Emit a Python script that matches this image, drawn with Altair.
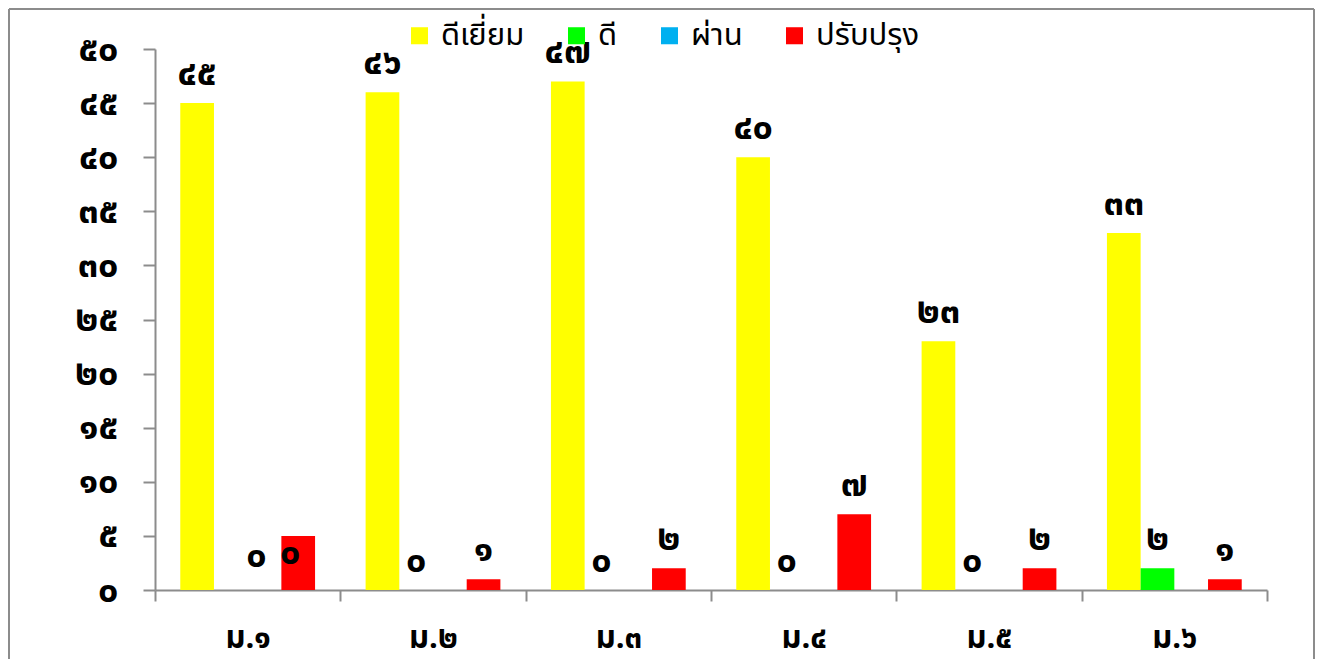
import altair as alt
import pandas as pd

# ---------------- data ----------------
categories = ["ม.๑", "ม.๒", "ม.๓", "ม.๔", "ม.๕", "ม.๖"]
series = ["ดีเยี่ยม", "ดี", "ผ่าน", "ปรับปรุง"]
colors = ["#FFFF00", "#00FF00", "#00B0F0", "#FF0000"]

excellent = [45, 46, 47, 40, 23, 33]
good = [0, 0, 0, 0, 0, 2]
passing = [None, None, None, None, None, None]
improve = [5, 1, 2, 7, 2, 1]

y_tick_values = [0, 5, 10, 15, 20, 25, 30, 35, 40, 45, 50]
y_tick_labels = ["๐", "๕", "๑๐", "๑๕", "๒๐", "๒๕", "๓๐", "๓๕", "๔๐", "๔๕", "๕๐"]

# data labels as printed on the original chart
label_excellent = ["๔๕", "๔๖", "๔๗", "๔๐", "๒๓", "๓๓"]
label_good = [None, "๐", "๐", "๐", "๐", "๒"]
label_improve = [None, "๑", "๒", "๗", "๒", "๑"]
# the two labels of ม.๑ sit apart from their bars in the original
m1_label_text = ["๐", "๐"]
m1_label_series = ["ผ่าน", "ปรับปรุง"]
m1_label_anchor = [0.46, 0.74]

FONT = "Tahoma, 'Noto Sans Thai', 'Noto Sans', 'DejaVu Sans', sans-serif"

# ---------------- tables ----------------
rows = []
for s, vals in zip(series, [excellent, good, passing, improve]):
    for c, v in zip(categories, vals):
        if v is not None:
            rows.append({"cat": c, "series": s, "value": v})
bars_df = pd.DataFrame(rows)

lrows = []
for s, vals, labs in [(series[0], excellent, label_excellent),
                      (series[1], good, label_good),
                      (series[3], improve, label_improve)]:
    for c, v, t in zip(categories, vals, labs):
        if t is not None:
            lrows.append({"cat": c, "series": s, "anchor": v, "text": t})
labels_df = pd.DataFrame(lrows)

m1_df = pd.DataFrame({"cat": [categories[0]] * 2, "series": m1_label_series,
                      "anchor": m1_label_anchor, "text": m1_label_text})

# ---------------- encodings ----------------
W, H = 1112, 541
GRAY = "#8C8C8C"
NUM_SIZE = 36

x_enc = alt.X("cat:N", sort=categories,
              scale=alt.Scale(domain=categories, paddingInner=0, paddingOuter=0),
              axis=alt.Axis(title=None, labelAngle=0, tickBand="extent", tickSize=11,
                            labelPadding=22, labelFontSize=31, labelFontWeight="bold",
                            labelFont=FONT, labelColor="#000000",
                            domainColor=GRAY, domainWidth=2, tickColor=GRAY, tickWidth=2))
xo_enc = alt.XOffset("series:N", sort=series,
                     scale=alt.Scale(domain=series, paddingInner=0, paddingOuter=0.75))
y_axis = alt.Axis(title=None, values=y_tick_values, grid=False, tickSize=12,
                  labelPadding=25, labelFontSize=NUM_SIZE, labelFontWeight="bold",
                  labelFont=FONT, labelColor="#000000",
                  labelExpr="%s[datum.value/5]" % str(y_tick_labels),
                  domainColor=GRAY, domainWidth=2, tickColor=GRAY, tickWidth=2)

bars = alt.Chart(bars_df).mark_bar().encode(
    x=x_enc,
    xOffset=xo_enc,
    y=alt.Y("value:Q", scale=alt.Scale(domain=[0, 50], nice=False, zero=True), axis=y_axis),
    color=alt.Color("series:N",
                    scale=alt.Scale(domain=series, range=colors),
                    legend=alt.Legend(title=None, orient="none", direction="horizontal",
                                      legendX=249, legendY=-29, columns=4,
                                      symbolType="square", symbolSize=290,
                                      symbolStrokeWidth=0, symbolOpacity=1,
                                      labelFont=FONT, labelFontSize=31,
                                      labelFontWeight="normal", labelColor="#000000",
                                      labelOffset=6, columnPadding=36)),
)

text_props = dict(baseline="middle", align="center", dy=-29, font=FONT,
                  fontSize=NUM_SIZE, fontWeight="bold", color="#000000")

labels = alt.Chart(labels_df).mark_text(**text_props).encode(
    x=alt.X("cat:N", sort=categories),
    xOffset=alt.XOffset("series:N", sort=series),
    y=alt.Y("anchor:Q"),
    text="text:N",
)

m1_labels = alt.Chart(m1_df).mark_text(dx=-8, **text_props).encode(
    x=alt.X("cat:N", sort=categories),
    xOffset=alt.XOffset("series:N", sort=series),
    y=alt.Y("anchor:Q"),
    text="text:N",
)

one = pd.DataFrame({"k": [0]})
frame_props = dict(color=GRAY, strokeWidth=2)
left_rule = alt.Chart(one).mark_rule(**frame_props).encode(
    x=alt.value(-146), y=alt.value(-40), y2=alt.value(610))
top_rule = alt.Chart(one).mark_rule(**frame_props).encode(
    x=alt.value(-146), x2=alt.value(1159), y=alt.value(-40))
right_rule = alt.Chart(one).mark_rule(**frame_props).encode(
    x=alt.value(1159), y=alt.value(-40), y2=alt.value(610))

chart = alt.layer(bars, labels, m1_labels, left_rule, top_rule, right_rule).properties(
    width=W, height=H, padding=0, background="#FFFFFF"
).configure_view(stroke=None)

chart.save("out.html", embed_options={"renderer": "svg", "actions": False})
